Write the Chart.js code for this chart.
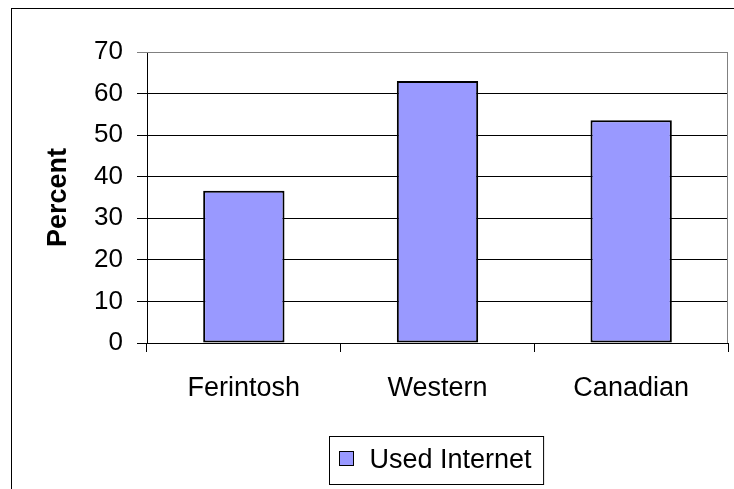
<!DOCTYPE html>
<html>
<head>
<meta charset="utf-8">
<script src="https://cdn.jsdelivr.net/npm/chart.js@4.4.1/dist/chart.umd.min.js"></script>
<style>
  html, body { margin: 0; padding: 0; background: #fff; }
  #wrap { position: relative; width: 734px; height: 489px; }
</style>
</head>
<body>
<div id="wrap"><canvas id="chart" width="734" height="489"></canvas></div>
<script>
// data
const categories = ['Ferintosh', 'Western', 'Canadian'];
const usedInternet = [36.6, 63.0, 53.6];
const seriesName = 'Used Internet';
const yMin = 0, yMax = 70, yStep = 10;

const FONT = "'Liberation Sans', Arial, sans-serif";
const barFill = '#9999ff';

// outer frame, plot border and the boxed legend (excel style)
const excelFrame = {
  id: 'excelFrame',
  beforeDraw(chart) {
    const ctx = chart.ctx;
    ctx.save();
    ctx.fillStyle = '#fff';
    ctx.fillRect(0, 0, chart.width, chart.height);
    ctx.strokeStyle = '#000';
    ctx.lineWidth = 1;
    ctx.strokeRect(11.5, 8.5, 900, 700);
    ctx.restore();
  },
  beforeDatasetsDraw(chart) {
    const { ctx, chartArea: a } = chart;
    ctx.save();
    ctx.strokeStyle = '#808080';
    ctx.lineWidth = 1;
    ctx.beginPath();
    ctx.moveTo(a.left, a.top + 0.5);
    ctx.lineTo(a.right - 0.5, a.top + 0.5);
    ctx.lineTo(a.right - 0.5, a.bottom);
    ctx.stroke();
    ctx.restore();
  },
  afterDraw(chart) {
    const ctx = chart.ctx;
    const ds = chart.data.datasets[0];
    ctx.save();
    ctx.font = '27px ' + FONT;
    const tw = ctx.measureText(ds.label).width;
    const bx = 329.5, by = 436.5, bh = 48;
    const bw = 41 + tw + 11;
    ctx.strokeStyle = '#000';
    ctx.lineWidth = 1;
    ctx.strokeRect(bx, by, bw, bh);
    ctx.fillStyle = ds.backgroundColor;
    ctx.fillRect(bx + 10, by + 15, 14, 14);
    ctx.strokeRect(bx + 10, by + 15, 14, 14);
    ctx.fillStyle = '#000';
    ctx.textBaseline = 'alphabetic';
    ctx.textAlign = 'left';
    ctx.fillText(ds.label, bx + 40, by + 31);
    ctx.restore();
  }
};

new Chart(document.getElementById('chart'), {
  type: 'bar',
  data: {
    labels: categories,
    datasets: [{
      label: seriesName,
      data: usedInternet,
      backgroundColor: barFill,
      borderColor: '#000',
      borderWidth: 2,
      borderSkipped: false,
      barPercentage: 0.42,
      categoryPercentage: 1.0
    }]
  },
  options: {
    responsive: false,
    animation: false,
    layout: { padding: { left: 0, right: 6, top: 52, bottom: 0 } },
    plugins: {
      legend: { display: false },
      tooltip: { enabled: false }
    },
    scales: {
      x: {
        afterFit(scale) { scale.height = 146; },
        grid: {
          offset: true,
          drawOnChartArea: false,
          drawTicks: true,
          tickLength: 9,
          color: '#000'
        },
        border: { color: '#000', width: 1 },
        ticks: {
          color: '#000',
          padding: 20,
          font: { family: FONT, size: 27 }
        }
      },
      y: {
        min: yMin,
        max: yMax,
        afterFit(scale) { scale.width = 147; },
        grid: {
          tickLength: 10,
          color: (c) => (c.tick && c.tick.value === yMax ? '#808080' : '#000')
        },
        border: { color: '#000', width: 1 },
        ticks: {
          stepSize: yStep,
          color: '#000',
          padding: 14,
          font: { family: FONT, size: 26 }
        },
        title: {
          display: true,
          text: 'Percent',
          color: '#000',
          padding: { top: 42, bottom: 0 },
          font: { family: FONT, size: 27, weight: 'bold' }
        }
      }
    }
  },
  plugins: [excelFrame]
});
</script>
</body>
</html>
